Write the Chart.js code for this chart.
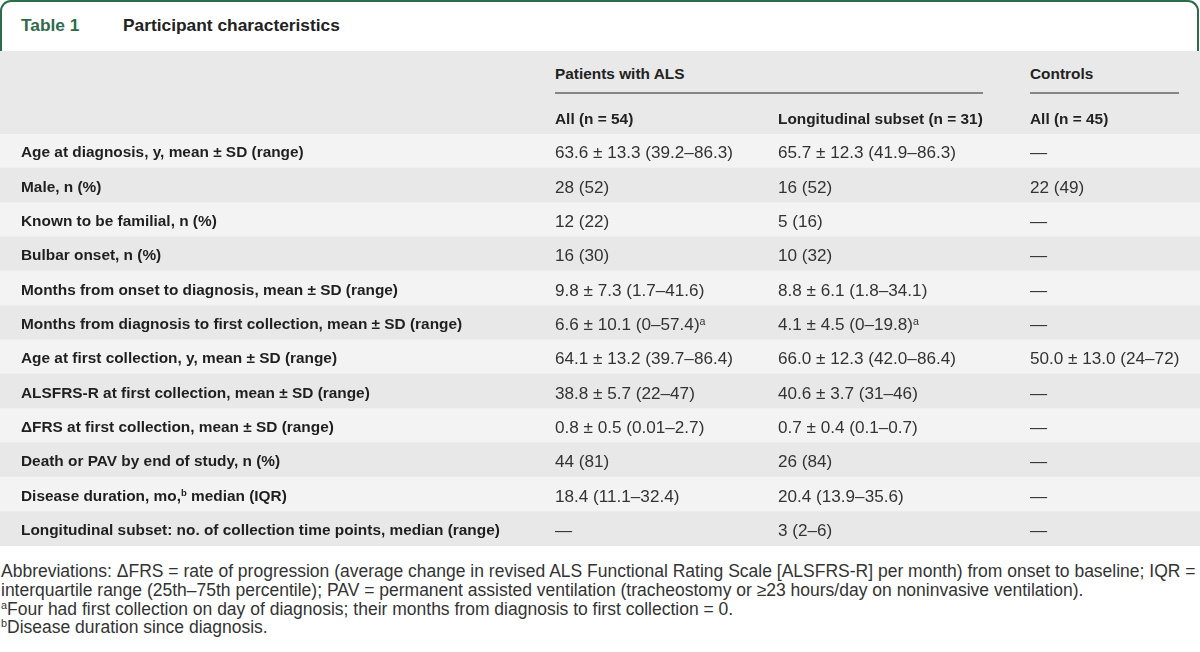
<!DOCTYPE html>
<html>
<head>
<meta charset="utf-8">
<script src="https://cdn.jsdelivr.net/npm/chart.js@4.4.1/dist/chart.umd.min.js"></script>
<style>
  html, body { margin:0; padding:0; background:#fff; }
  body { width:1200px; height:652px; position:relative; overflow:hidden; font-family:"Liberation Sans", Arial, sans-serif; }
  .abs { position:absolute; white-space:nowrap; }
  .lbl { font-weight:bold; color:#1f1f1f; }
  .val { color:#333; }
  .hdr { font-weight:bold; color:#222; }
  .note { color:#333; }
  sup { font-size:0.62em; vertical-align:baseline; position:relative; top:-0.5em; }
  #titlebox { position:absolute; left:0; top:0; width:1199px; height:52px; box-sizing:border-box;
              border:2px solid #2e6b4b; border-bottom:none; border-radius:11px 11px 0 0; background:#fff; }
  #header { position:absolute; left:0; top:51px; width:1200px; height:83px; background:#e8e9e8; }
  .rule { position:absolute; height:2px; background:#858585; }
  #c { position:absolute; left:0; top:134px; }
</style>
</head>
<body>
<div id="titlebox"></div>
<div id="header"></div>
<canvas id="c" width="1200" height="412"></canvas>
<div id="layer"></div>
<script>
// ---- data ----
const tableNumber = "Table 1";
const tableTitle = "Participant characteristics";
const groupHeaders = ["Patients with ALS", "Controls"];
const columnHeaders = ["All (n = 54)", "Longitudinal subset (n = 31)", "All (n = 45)"];
const rowLabels = [
  "Age at diagnosis, y, mean ± SD (range)",
  "Male, n (%)",
  "Known to be familial, n (%)",
  "Bulbar onset, n (%)",
  "Months from onset to diagnosis, mean ± SD (range)",
  "Months from diagnosis to first collection, mean ± SD (range)",
  "Age at first collection, y, mean ± SD (range)",
  "ALSFRS-R at first collection, mean ± SD (range)",
  "ΔFRS at first collection, mean ± SD (range)",
  "Death or PAV by end of study, n (%)",
  "Disease duration, mo,^b median (IQR)",
  "Longitudinal subset: no. of collection time points, median (range)"
];
const allALS = [
  "63.6 ± 13.3 (39.2–86.3)", "28 (52)", "12 (22)", "16 (30)", "9.8 ± 7.3 (1.7–41.6)",
  "6.6 ± 10.1 (0–57.4)^a", "64.1 ± 13.2 (39.7–86.4)", "38.8 ± 5.7 (22–47)", "0.8 ± 0.5 (0.01–2.7)",
  "44 (81)", "18.4 (11.1–32.4)", "—"
];
const longitudinal = [
  "65.7 ± 12.3 (41.9–86.3)", "16 (52)", "5 (16)", "10 (32)", "8.8 ± 6.1 (1.8–34.1)",
  "4.1 ± 4.5 (0–19.8)^a", "66.0 ± 12.3 (42.0–86.4)", "40.6 ± 3.7 (31–46)", "0.7 ± 0.4 (0.1–0.7)",
  "26 (84)", "20.4 (13.9–35.6)", "3 (2–6)"
];
const controls = [
  "—", "22 (49)", "—", "—", "—", "—", "50.0 ± 13.0 (24–72)", "—", "—", "—", "—", "—"
];
const footnotes = [
  "Abbreviations: ΔFRS = rate of progression (average change in revised ALS Functional Rating Scale [ALSFRS-R] per month) from onset to baseline; IQR =",
  "interquartile range (25th–75th percentile); PAV = permanent assisted ventilation (tracheostomy or ≥23 hours/day on noninvasive ventilation).",
  "^aFour had first collection on day of diagnosis; their months from diagnosis to first collection = 0.",
  "^bDisease duration since diagnosis."
];

// ---- helpers ----
const FAM = '"Liberation Sans", Arial, sans-serif';
const mctx = document.createElement('canvas').getContext('2d');
function plain(s){ return s.replace(/\^(\w)/g, ''); }
function fit(text, weight, target){
  mctx.font = weight + ' 100px ' + FAM;
  return 100 * target / mctx.measureText(text).width;
}
function html(s){ return s.replace(/\^(\w)/g, '<sup>$1</sup>'); }
const layer = document.getElementById('layer');
function place(text, x, cy, cls, size, lh){
  lh = lh || 34;
  const d = document.createElement('div');
  d.className = 'abs ' + cls;
  d.style.left = x + 'px';
  d.style.top = (cy - lh/2) + 'px';
  d.style.height = lh + 'px';
  d.style.lineHeight = lh + 'px';
  d.style.fontSize = size + 'px';
  d.innerHTML = html(text);
  layer.appendChild(d);
  return d;
}

// font sizes fitted to measured widths in the reference
const titleSize = fit(tableTitle, 'bold', 217);
const labelSize = fit(rowLabels[0], 'bold', 283);
const valueSize = fit(allALS[0], 'normal', 178);
const noteSize  = fit(footnotes[0], 'normal', 1196);

// ---- title ----
const t1 = place(tableNumber, 21, 25, 'hdr', titleSize);
t1.style.color = '#2e6b4b';
place(tableTitle, 123, 25, 'hdr', titleSize);

// ---- column headers ----
const colX = [555, 778, 1030];
place(groupHeaders[0], colX[0], 74, 'hdr', labelSize);
place(groupHeaders[1], colX[2], 74, 'hdr', labelSize);
[[555, 983], [1030, 1179]].forEach(([a, b]) => {
  const r = document.createElement('div');
  r.className = 'rule';
  r.style.left = a + 'px'; r.style.top = '91.5px'; r.style.width = (b - a) + 'px';
  layer.appendChild(r);
});
columnHeaders.forEach((h, i) => place(h, colX[i], 119, 'hdr', labelSize));

// ---- row bands via Chart.js ----
const LIGHT = '#f2f3f2', DARK = '#e7e8e7';
const chart = new Chart(document.getElementById('c'), {
  type: 'bar',
  data: {
    labels: rowLabels.map(plain),
    datasets: [{
      data: rowLabels.map(() => [0, 1]),
      backgroundColor: rowLabels.map((_, i) => i % 2 ? DARK : LIGHT),
      borderWidth: 0,
      barPercentage: 1,
      categoryPercentage: 1,
      inflateAmount: 0.5
    }]
  },
  options: {
    indexAxis: 'y',
    responsive: false,
    animation: false,
    events: [],
    layout: { padding: 0 },
    plugins: { legend: { display: false }, tooltip: { enabled: false } },
    scales: {
      x: { type: 'linear', min: 0, max: 1, display: false },
      y: { display: false }
    }
  }
});

// ---- cell texts placed on the chart's category scale ----
const top0 = 134;
rowLabels.forEach((lab, i) => {
  const cy = top0 + chart.scales.y.getPixelForValue(i) + 1;
  place(lab, 21, cy, 'lbl', labelSize);
  place(allALS[i], colX[0], cy, 'val', valueSize);
  place(longitudinal[i], colX[1], cy, 'val', valueSize);
  place(controls[i], colX[2], cy, 'val', valueSize);
});

// ---- footnotes ----
const noteY = [571, 590, 609, 627];
footnotes.forEach((f, i) => place(f, 1, noteY[i], 'note', noteSize, 19));
</script>
</body>
</html>
